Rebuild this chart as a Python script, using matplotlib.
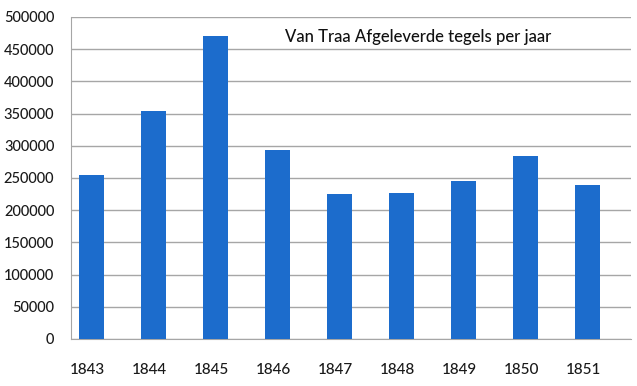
import numpy as np
import matplotlib
import matplotlib.pyplot as plt
import matplotlib.transforms as mtransforms
matplotlib.use('Agg')

# Delivered tiles per year
years = ['1843', '1844', '1845', '1846', '1847', '1848', '1849', '1850', '1851']
tiles = [254000, 354000, 470000, 293000, 225000, 226000, 245000, 284000, 239000]
y_ticks = [0, 50000, 100000, 150000, 200000, 250000, 300000, 350000, 400000, 450000, 500000]

plt.rcParams['font.family'] = ['Lato', 'DejaVu Sans']

fig = plt.figure(figsize=(6.37, 3.86), dpi=100)
ax = fig.add_axes([0.1115, 0.122, 0.879, 0.834])

x = np.arange(len(years))
ax.bar(x, tiles, width=0.39, color='#1c6ccc', zorder=3)

ax.set_ylim(0, 500000)
ax.set_xlim(-0.33, 8.7)
ax.set_yticks(y_ticks)
ax.set_yticklabels([str(v) for v in y_ticks])
ax.set_xticks(x)
ax.set_xticklabels(years)

ax.yaxis.grid(True, color='#a6a6a6', linewidth=1.0, zorder=0)
ax.tick_params(axis='both', length=0, colors='#1a1a1a')
ax.tick_params(axis='y', pad=12, labelsize=10.5)
ax.tick_params(axis='x', pad=17, labelsize=11)
for lab in ax.get_xticklabels() + ax.get_yticklabels():
    lab.set_fontweight('medium')

# x labels sit a little left of the bars in the original
shift = mtransforms.ScaledTranslation(-4 / 100, 0, fig.dpi_scale_trans)
for lab in ax.get_xticklabels():
    lab.set_transform(lab.get_transform() + shift)

for side in ['top', 'right']:
    ax.spines[side].set_visible(False)
ax.spines['left'].set_color('#a6a6a6')
ax.spines['bottom'].set_color('#a6a6a6')

ax.text(0.62, 0.937, 'Van Traa Afgeleverde tegels per jaar', transform=ax.transAxes,
        ha='center', va='center', fontsize=12, fontweight='medium', color='#111111')

plt.savefig('out.png', dpi=100)
